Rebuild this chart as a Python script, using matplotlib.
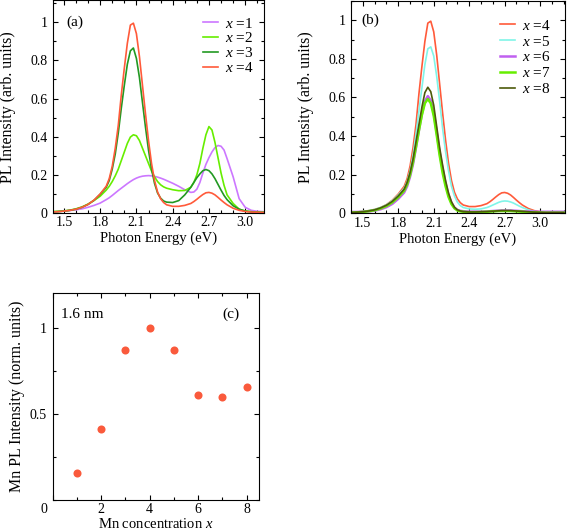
import matplotlib
matplotlib.use("Agg")
import matplotlib.pyplot as plt
from matplotlib.ticker import MultipleLocator, FormatStrFormatter
from matplotlib.transforms import ScaledTranslation

plt.rcParams['font.family'] = 'Liberation Serif'
plt.rcParams['mathtext.fontset'] = 'custom'
plt.rcParams['mathtext.rm'] = 'Liberation Serif'
plt.rcParams['mathtext.it'] = 'Liberation Serif:italic'

# photon energy grid (eV)
energy = [1.40, 1.45, 1.50, 1.55, 1.60, 1.65, 1.70, 1.75, 1.80,
          1.85, 1.875, 1.90, 1.925, 1.95, 1.975, 2.00, 2.025, 2.05, 2.075, 2.10,
          2.125, 2.15, 2.175, 2.20, 2.225, 2.25, 2.275, 2.30, 2.325, 2.35,
          2.40, 2.45, 2.50,
          2.55, 2.575, 2.60, 2.625, 2.65, 2.675, 2.70, 2.725, 2.75, 2.775, 2.80, 2.825, 2.85,
          2.90, 2.95, 3.00, 3.05, 3.10, 3.15, 3.20]

# PL spectra for each Mn concentration x
pl_x1 = [0.006, 0.008, 0.010, 0.013, 0.017, 0.022, 0.030, 0.040, 0.052,
         0.070, 0.080, 0.092, 0.105, 0.118, 0.130, 0.142, 0.154, 0.165, 0.175, 0.183,
         0.189, 0.193, 0.195, 0.196, 0.195, 0.192, 0.188, 0.183, 0.177, 0.170,
         0.156, 0.140, 0.122,
         0.108, 0.110, 0.125, 0.160, 0.210, 0.255, 0.290, 0.320, 0.343, 0.354, 0.350, 0.330, 0.285,
         0.190, 0.075, 0.030, 0.014, 0.009, 0.007, 0.006]
pl_x2 = [0.008, 0.009, 0.011, 0.015, 0.022, 0.032, 0.047, 0.066, 0.088,
         0.120, 0.140, 0.165, 0.195, 0.230, 0.275, 0.320, 0.365, 0.398, 0.410, 0.405,
         0.380, 0.340, 0.300, 0.260, 0.220, 0.190, 0.165, 0.148, 0.137, 0.130,
         0.122, 0.117, 0.118,
         0.135, 0.160, 0.200, 0.260, 0.340, 0.410, 0.453, 0.435, 0.370, 0.290, 0.210, 0.145, 0.095,
         0.050, 0.020, 0.010, 0.007, 0.005, 0.004, 0.004]
pl_x3 = [0.005, 0.007, 0.010, 0.014, 0.020, 0.030, 0.045, 0.067, 0.098,
         0.135, 0.170, 0.230, 0.310, 0.420, 0.550, 0.670, 0.780, 0.850, 0.865, 0.810,
         0.710, 0.580, 0.450, 0.330, 0.230, 0.155, 0.105, 0.078, 0.063, 0.057,
         0.055, 0.065, 0.095,
         0.135, 0.160, 0.185, 0.205, 0.222, 0.228, 0.222, 0.205, 0.180, 0.150, 0.120, 0.092, 0.070,
         0.038, 0.020, 0.010, 0.006, 0.004, 0.003, 0.003]
pl_x4 = [0.005, 0.007, 0.010, 0.014, 0.020, 0.030, 0.045, 0.068, 0.100,
         0.140, 0.180, 0.245, 0.340, 0.460, 0.620, 0.760, 0.890, 0.985, 0.995, 0.940,
         0.820, 0.670, 0.520, 0.380, 0.260, 0.170, 0.110, 0.075, 0.055, 0.043,
         0.035, 0.035, 0.040,
         0.050, 0.060, 0.072, 0.085, 0.097, 0.106, 0.108, 0.104, 0.095, 0.082, 0.068, 0.055, 0.043,
         0.025, 0.014, 0.008, 0.005, 0.004, 0.003, 0.003]
pl_x5 = [0.005, 0.007, 0.010, 0.014, 0.020, 0.030, 0.044, 0.065, 0.095,
         0.130, 0.165, 0.220, 0.300, 0.410, 0.530, 0.650, 0.770, 0.852, 0.862, 0.815,
         0.710, 0.580, 0.440, 0.320, 0.220, 0.140, 0.090, 0.058, 0.040, 0.030,
         0.023, 0.021, 0.023,
         0.030, 0.036, 0.043, 0.050, 0.057, 0.062, 0.064, 0.063, 0.059, 0.053, 0.045, 0.037, 0.030,
         0.018, 0.010, 0.006, 0.004, 0.003, 0.003, 0.003]
pl_x6 = [0.007, 0.007, 0.008, 0.010, 0.014, 0.021, 0.032, 0.049, 0.075,
         0.108, 0.140, 0.190, 0.255, 0.340, 0.430, 0.515, 0.580, 0.607, 0.585, 0.520,
         0.420, 0.315, 0.230, 0.155, 0.095, 0.055, 0.030, 0.018, 0.013, 0.011,
         0.009, 0.009, 0.009,
         0.010, 0.011, 0.012, 0.013, 0.014, 0.015, 0.015, 0.015, 0.015, 0.014, 0.013, 0.012, 0.011,
         0.010, 0.009, 0.008, 0.008, 0.008, 0.008, 0.008]
pl_x7 = [0.004, 0.005, 0.007, 0.011, 0.016, 0.025, 0.038, 0.057, 0.084,
         0.118, 0.150, 0.200, 0.265, 0.345, 0.430, 0.510, 0.570, 0.592, 0.570, 0.505,
         0.405, 0.300, 0.210, 0.140, 0.085, 0.048, 0.026, 0.015, 0.010, 0.008,
         0.006, 0.006, 0.007,
         0.008, 0.009, 0.010, 0.011, 0.012, 0.012, 0.012, 0.012, 0.012, 0.011, 0.010, 0.009, 0.008,
         0.006, 0.005, 0.004, 0.003, 0.003, 0.003, 0.003]
pl_x8 = [0.004, 0.006, 0.008, 0.012, 0.018, 0.028, 0.042, 0.062, 0.090,
         0.125, 0.160, 0.210, 0.280, 0.370, 0.460, 0.550, 0.625, 0.653, 0.630, 0.560,
         0.450, 0.340, 0.250, 0.170, 0.105, 0.060, 0.032, 0.018, 0.012, 0.009,
         0.007, 0.007, 0.008,
         0.009, 0.010, 0.011, 0.012, 0.013, 0.014, 0.014, 0.014, 0.014, 0.013, 0.012, 0.011, 0.010,
         0.008, 0.006, 0.005, 0.004, 0.004, 0.004, 0.004]

# panel (c): integrated Mn PL vs concentration
mn_conc = [1, 2, 3, 4, 5, 6, 7, 8]
mn_pl = [0.158, 0.412, 0.872, 1.0, 0.870, 0.607, 0.597, 0.656]

energy_ticks = [1.5, 1.8, 2.1, 2.4, 2.7, 3.0]


def style_axes(ax):
    ax.tick_params(which='both', direction='in', top=True, right=True,
                   labelsize=10, width=0.8)
    ax.tick_params(which='major', length=3.5)
    ax.tick_params(which='minor', length=2)
    ax.tick_params(axis='x', pad=2.5)
    ax.tick_params(axis='y', pad=4)
    for s in ax.spines.values():
        s.set_linewidth(0.8)


def spectrum_axes(ax, xlim, ytop):
    style_axes(ax)
    ax.set_xlim(*xlim)
    ax.set_ylim(0, ytop)
    ax.set_xticks(energy_ticks)
    ax.xaxis.set_major_formatter(FormatStrFormatter('%.1f'))
    ax.xaxis.set_minor_locator(MultipleLocator(0.1))
    ax.yaxis.set_major_locator(MultipleLocator(0.2))
    ax.yaxis.set_major_formatter(FormatStrFormatter('%g'))
    ax.yaxis.set_minor_locator(MultipleLocator(0.1))
    ax.set_xlabel('Photon Energy (eV)', fontsize=10.5)
    ax.set_ylabel('PL Intensity (arb. units)', fontsize=11.5)


fig = plt.figure(figsize=(5.67, 5.32), dpi=100)

# (a)
ax = fig.add_axes([0.0935, 0.5996, 0.372, 0.3995])
ax.plot(energy, pl_x1, color='#cc77ff', lw=1.2, label='$x$ =1')
ax.plot(energy, pl_x2, color='#66ee00', lw=1.2, label='$x$ =2')
ax.plot(energy, pl_x3, color='#229922', lw=1.2, label='$x$ =3')
ax.plot(energy, pl_x4, color='#ff5a3a', lw=1.2, label='$x$ =4')
spectrum_axes(ax, (1.41, 3.155), 1.114)
ax.xaxis.set_label_coords(0.5, -0.087)
ax.yaxis.set_label_coords(-0.175, 0.5)
ax.text(0.102, 0.899, '(a)', transform=ax.transAxes, fontsize=11,
        ha='center', va='center')
ax.legend(loc='upper left', bbox_to_anchor=(0.711, 0.924), frameon=False,
          borderpad=0, borderaxespad=0, handlelength=1.0, handletextpad=0.45,
          labelspacing=0.05, fontsize=11)

# (b)
ax = fig.add_axes([0.619, 0.599, 0.3774, 0.4])
ax.plot(energy, pl_x4, color='#ff5a3a', lw=1.2, label='$x$ =4')
ax.plot(energy, pl_x5, color='#80f5e8', lw=1.2, label='$x$ =5')
ax.plot(energy, pl_x6, color='#c060f0', lw=1.8, label='$x$ =6')
ax.plot(energy, pl_x7, color='#66ee00', lw=1.8, label='$x$ =7')
ax.plot(energy, pl_x8, color='#4d5a0a', lw=1.2, label='$x$ =8')
spectrum_axes(ax, (1.40, 3.21), 1.102)
ax.xaxis.set_label_coords(0.5, -0.09)
ax.yaxis.set_label_coords(-0.172, 0.5)
ax.text(0.089, 0.908, '(b)', transform=ax.transAxes, fontsize=11,
        ha='center', va='center')
ax.legend(loc='upper left', bbox_to_anchor=(0.696, 0.914), frameon=False,
          borderpad=0, borderaxespad=0, handlelength=1.0, handletextpad=0.45,
          labelspacing=0.12, fontsize=11)

# (c)
ax = fig.add_axes([0.0926, 0.0602, 0.3637, 0.3885])
ax.plot(mn_conc, mn_pl, 'o', color='#fa5a3c', ms=5.8, mec='none')
style_axes(ax)
ax.set_xlim(0, 8.5)
ax.set_ylim(0, 1.2)
ax.set_xticks([0, 2, 4, 6, 8])
ax.xaxis.set_minor_locator(MultipleLocator(1))
ax.set_yticks([0.5, 1])
ax.set_yticklabels(['0.5', '1'])
ax.yaxis.set_minor_locator(MultipleLocator(0.25))
# the "0" sits left of the corner, as in the original
zero = ax.get_xticklabels()[0]
zero.set_ha('right')
zero.set_transform(zero.get_transform() + ScaledTranslation(-3.5 / 72, 0, fig.dpi_scale_trans))
ax.set_xlabel('Mn concentration $x$', fontsize=10.5)
ax.set_ylabel('Mn PL Intensity (norm. units)', fontsize=11.5)
ax.xaxis.set_label_coords(0.5, -0.083)
ax.yaxis.set_label_coords(-0.133, 0.5)
ax.text(0.041, 0.897, '1.6 nm', transform=ax.transAxes, fontsize=11,
        ha='left', va='center')
ax.text(0.863, 0.897, '(c)', transform=ax.transAxes, fontsize=11,
        ha='center', va='center')

fig.savefig('out.png', dpi=100)
